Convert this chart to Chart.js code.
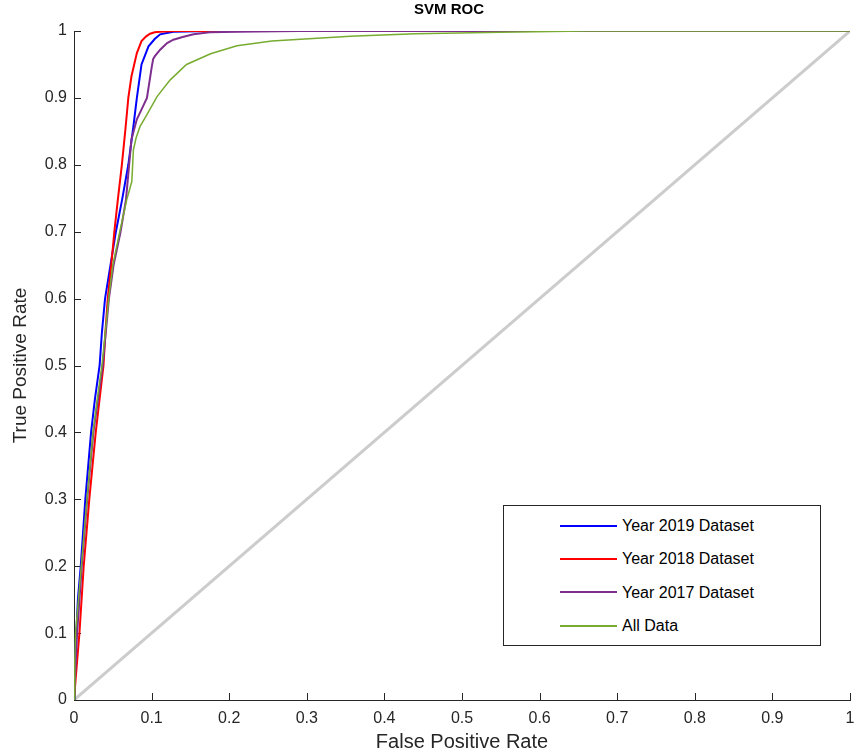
<!DOCTYPE html>
<html>
<head>
<meta charset="utf-8">
<script src="https://cdn.jsdelivr.net/npm/chart.js@4.4.0/dist/chart.umd.min.js"></script>
<style>
    body { margin: 0; background: #fff; }
    #quadro { position: relative; width: 855px; height: 755px; font-family: "Liberation Sans", Arial, sans-serif; }
    #titulo { position: absolute; left: 0; width: 898px; top: 0; text-align: center; font-weight: bold; font-size: 15px; line-height: 17px; color: #000; }
    #legenda { position: absolute; left: 503px; top: 505px; width: 316px; height: 139px; border: 1px solid #262626; background: #fff; }
    .item { position: absolute; left: 56px; height: 20px; font-size: 16px; line-height: 20px; color: #000; white-space: nowrap; }
    .item span.traco { display: inline-block; width: 57px; height: 2px; vertical-align: middle; margin-right: 5px; position: relative; top: -1px; }
</style>
</head>
<body>
<div id="quadro">
    <canvas id="graficoRoc" width="855" height="755"></canvas>
    <div id="titulo">SVM ROC</div>
    <div id="legenda"></div>
</div>
<script>
// Dados (FPR x TPR)
const rotulos = ["Year 2019 Dataset", "Year 2018 Dataset", "Year 2017 Dataset", "All Data"];
const cores = ["#0000ff", "#ff0000", "#7e2f8e", "#77ac30"];

const fpr2019 = [0, 0.001, 0.003, 0.005, 0.0087, 0.0146, 0.022, 0.027, 0.033, 0.036, 0.040, 0.047, 0.054, 0.062, 0.070, 0.0765, 0.081, 0.087, 0.096, 0.104, 0.111, 0.128, 0.16, 0.23, 0.4, 1];
const tpr2019 = [0, 0.06, 0.1, 0.15, 0.2, 0.3, 0.4, 0.45, 0.5, 0.55, 0.6, 0.65, 0.7, 0.748, 0.8, 0.857, 0.9, 0.95, 0.977, 0.988, 0.995, 0.999, 0.9995, 1, 1, 1];

const fpr2018 = [0, 0.002, 0.007, 0.0125, 0.0197, 0.028, 0.038, 0.0405, 0.0435, 0.048, 0.052, 0.0565, 0.0615, 0.066, 0.070, 0.074, 0.081, 0.087, 0.093, 0.098, 0.104, 0.111, 0.13, 0.2, 1];
const tpr2018 = [0, 0.03, 0.1, 0.2, 0.3, 0.4, 0.5, 0.55, 0.6, 0.65, 0.7, 0.748, 0.798, 0.85, 0.9, 0.932, 0.967, 0.985, 0.992, 0.996, 0.998, 0.999, 1, 1, 1];

const fpr2017 = [0, 0.002, 0.004, 0.010, 0.017, 0.025, 0.031, 0.037, 0.045, 0.051, 0.060, 0.067, 0.074, 0.081, 0.088, 0.094, 0.100, 0.102, 0.104, 0.111, 0.120, 0.128, 0.14, 0.154, 0.175, 0.21, 0.29, 0.5, 1];
const tpr2017 = [0, 0.05, 0.1, 0.2, 0.3, 0.4, 0.45, 0.5, 0.6, 0.65, 0.7, 0.748, 0.838, 0.868, 0.885, 0.9, 0.945, 0.958, 0.962, 0.972, 0.982, 0.987, 0.991, 0.995, 0.998, 0.999, 1, 1, 1];

const fprTodos = [0, 0.001, 0.002, 0.0094, 0.0167, 0.0245, 0.030, 0.036, 0.0447, 0.050, 0.059, 0.068, 0.0745, 0.0756, 0.0765, 0.080, 0.085, 0.094, 0.107, 0.124, 0.145, 0.176, 0.21, 0.255, 0.356, 0.44, 0.55, 0.66, 1];
const tprTodos = [0, 0.06, 0.1, 0.2, 0.3, 0.4, 0.45, 0.5, 0.6, 0.65, 0.7, 0.748, 0.775, 0.80, 0.822, 0.84, 0.857, 0.875, 0.902, 0.927, 0.95, 0.966, 0.978, 0.985, 0.992, 0.996, 0.998, 1, 1];

const diagonalX = [0, 1];
const diagonalY = [0, 1];

const rotulosTicks = ["0", "0.1", "0.2", "0.3", "0.4", "0.5", "0.6", "0.7", "0.8", "0.9", "1"];

function juntarPontos(xs, ys) {
    return xs.map((x, i) => ({ x: x, y: ys[i] }));
}

function criarSerie(rotulo, xs, ys, cor, largura, ordem) {
    return {
        label: rotulo,
        data: juntarPontos(xs, ys),
        borderColor: cor,
        backgroundColor: cor,
        borderWidth: largura,
        showLine: true,
        pointRadius: 0,
        tension: 0,
        order: ordem
    };
}

//Marcas dos eixos viradas para dentro, como no MATLAB
const marcasInternas = {
    id: 'marcasInternas',
    beforeDatasetsDraw(chart) {
        const { ctx, chartArea, scales } = chart;
        ctx.save();
        ctx.strokeStyle = '#262626';
        ctx.lineWidth = 1;
        ctx.beginPath();
        scales.x.ticks.forEach(t => {
            const px = Math.round(scales.x.getPixelForValue(t.value)) + 0.5;
            ctx.moveTo(px, chartArea.bottom);
            ctx.lineTo(px, chartArea.bottom - 7);
        });
        scales.y.ticks.forEach(t => {
            const py = Math.round(scales.y.getPixelForValue(t.value)) + 0.5;
            ctx.moveTo(chartArea.left, py);
            ctx.lineTo(chartArea.left + 7, py);
        });
        ctx.stroke();
        ctx.restore();
    }
};

const fonte = '"Liberation Sans", Arial, sans-serif';
Chart.defaults.font.family = fonte;
Chart.defaults.color = '#262626';

new Chart(document.getElementById('graficoRoc'), {
    type: 'scatter',
    data: {
        datasets: [
            criarSerie(rotulos[0], fpr2019, tpr2019, cores[0], 2, 4),
            criarSerie(rotulos[1], fpr2018, tpr2018, cores[1], 2, 3),
            criarSerie(rotulos[2], fpr2017, tpr2017, cores[2], 2, 2),
            criarSerie(rotulos[3], fprTodos, tprTodos, cores[3], 1.5, 1),
            criarSerie('diagonal', diagonalX, diagonalY, '#cccccc', 3, 5)
        ]
    },
    options: {
        responsive: false,
        animation: false,
        layout: { padding: { top: 31, right: 5, left: 0, bottom: 0 } },
        plugins: {
            legend: { display: false },
            tooltip: { enabled: false },
            title: { display: false }
        },
        scales: {
            x: {
                type: 'linear',
                min: 0,
                max: 1,
                afterFit: s => { s.height = 55; s.paddingLeft = 0; s.paddingRight = 0; },
                grid: { display: true, drawOnChartArea: false, drawTicks: false },
                border: { display: true, color: '#262626', width: 1 },
                ticks: {
                    stepSize: 0.1,
                    autoSkip: false,
                    maxRotation: 0,
                    padding: 9,
                    font: { size: 16 },
                    callback: (v, i) => rotulosTicks[i]
                },
                title: { display: true, text: 'False Positive Rate', font: { size: 20 }, padding: { top: 0, bottom: 1 } }
            },
            y: {
                type: 'linear',
                min: 0,
                max: 1,
                afterFit: s => { s.width = 74; },
                grid: { display: true, drawOnChartArea: false, drawTicks: false },
                border: { display: true, color: '#262626', width: 1 },
                ticks: {
                    stepSize: 0.1,
                    autoSkip: false,
                    padding: 7,
                    font: { size: 16 },
                    callback: (v, i) => rotulosTicks[i]
                },
                title: { display: true, text: 'True Positive Rate', font: { size: 19 }, padding: { top: 9, bottom: 0 } }
            }
        }
    },
    plugins: [marcasInternas]
});

//Legenda montada a partir dos mesmos rótulos e cores
const legenda = document.getElementById('legenda');
rotulos.forEach((r, i) => {
    const item = document.createElement('div');
    item.className = 'item';
    item.style.top = (10 + i * 33.3) + 'px';
    item.innerHTML = '<span class="traco" style="background:' + cores[i] + '"></span>' + r;
    legenda.appendChild(item);
});
</script>
</body>
</html>
